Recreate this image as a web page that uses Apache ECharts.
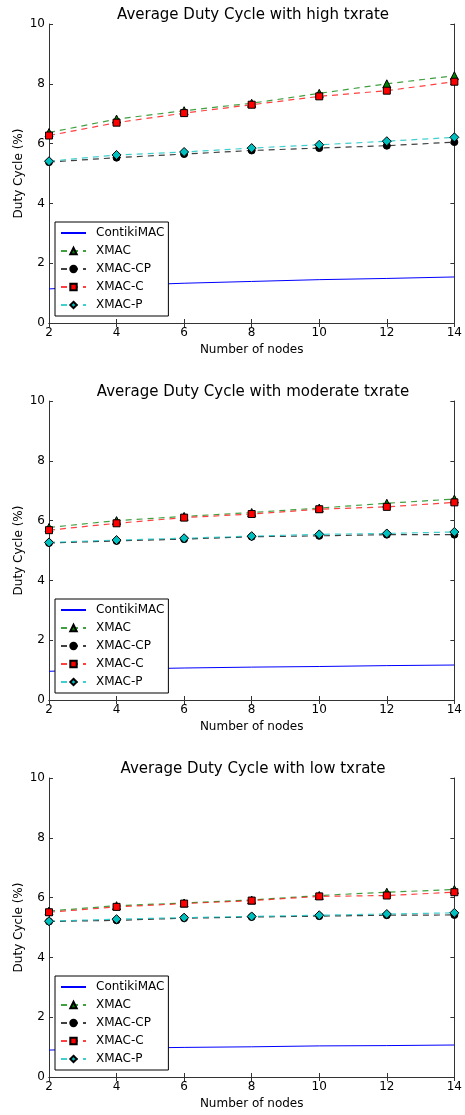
<!DOCTYPE html>
<html>
<head>
<meta charset="utf-8">
<script src="https://cdn.jsdelivr.net/npm/echarts@6/dist/echarts.min.js"></script>
<style>
html,body{margin:0;padding:0;background:#fff;}
#chart{width:465px;height:1115px;}
</style>
</head>
<body>
<div id="chart"></div>
<script>
// ---- data ----
const nodes = [2, 4, 6, 8, 10, 12, 14];
const yTicks = [0, 2, 4, 6, 8, 10];
const titles = ['Average Duty Cycle with high txrate', 'Average Duty Cycle with moderate txrate', 'Average Duty Cycle with low txrate'];
const seriesNames = ['ContikiMAC', 'XMAC', 'XMAC-CP', 'XMAC-C', 'XMAC-P'];

const highContiki = [1.14, 1.25, 1.33, 1.39, 1.45, 1.49, 1.54];
const highXmac    = [6.37, 6.82, 7.10, 7.35, 7.68, 8.00, 8.27];
const highXmacCP  = [5.38, 5.53, 5.65, 5.77, 5.85, 5.93, 6.05];
const highXmacC   = [6.27, 6.70, 7.02, 7.30, 7.58, 7.77, 8.07];
const highXmacP   = [5.41, 5.62, 5.72, 5.85, 5.96, 6.08, 6.21];

const modContiki = [0.96, 1.03, 1.07, 1.10, 1.12, 1.15, 1.17];
const modXmac    = [5.77, 6.00, 6.14, 6.27, 6.42, 6.58, 6.72];
const modXmacCP  = [5.25, 5.32, 5.38, 5.46, 5.49, 5.53, 5.53];
const modXmacC   = [5.68, 5.91, 6.10, 6.22, 6.38, 6.46, 6.61];
const modXmacP   = [5.27, 5.35, 5.41, 5.48, 5.54, 5.57, 5.62];

const lowContiki = [0.90, 0.96, 0.99, 1.01, 1.04, 1.05, 1.07];
const lowXmac    = [5.55, 5.73, 5.82, 5.92, 6.07, 6.18, 6.27];
const lowXmacCP  = [5.20, 5.24, 5.31, 5.35, 5.38, 5.41, 5.42];
const lowXmacC   = [5.51, 5.69, 5.80, 5.90, 6.04, 6.07, 6.18];
const lowXmacP   = [5.21, 5.28, 5.33, 5.37, 5.41, 5.45, 5.49];

const panels = [
  [highContiki, highXmac, highXmacCP, highXmacC, highXmacP],
  [modContiki, modXmac, modXmacCP, modXmacC, modXmacP],
  [lowContiki, lowXmac, lowXmacCP, lowXmacC, lowXmacP]
];

// ---- styles ----
const styles = [
  {color: '#0000ff', symbol: 'none', size: 0, dashed: false},
  {color: '#008000', symbol: 'triangle', size: 8, dashed: true},
  {color: '#000000', symbol: 'circle', size: 7, dashed: true},
  {color: '#ff0000', symbol: 'rect', size: 7, dashed: true},
  {color: '#00bfbf', symbol: 'diamond', size: 9, dashed: true}
];

const font = 'DejaVu Sans';
const gridTops = [24, 401, 778];
const gridH = 299;
const axisColor = '#333';

const grids = [], xAxes = [], yAxes = [], series = [], legends = [], titleComps = [];

gridTops.forEach((top, g) => {
  grids.push({left: 49, right: 10, top: top, height: gridH});
  titleComps.push({
    text: titles[g], left: 248, top: top - 21, textAlign: 'center',
    textStyle: {fontFamily: font, fontSize: 15, fontWeight: 'normal', color: '#000'}
  });
  const xmin = nodes[0], xmax = nodes[nodes.length - 1], xint = nodes[1] - nodes[0];
  const ymin = yTicks[0], ymax = yTicks[yTicks.length - 1], yint = yTicks[1] - yTicks[0];
  const lineCommon = {show: true, lineStyle: {color: axisColor, width: 1}};
  const tickCommon = {show: true, inside: true, length: 4, lineStyle: {color: axisColor}};
  xAxes.push({
    type: 'value', gridIndex: g, position: 'bottom', min: xmin, max: xmax, interval: xint,
    axisLine: lineCommon, axisTick: tickCommon, splitLine: {show: false},
    axisLabel: {fontFamily: font, fontSize: 12, color: '#000', margin: 4},
    name: 'Number of nodes', nameLocation: 'middle', nameGap: 21, nameMoveOverlap: false,
    nameTextStyle: {fontFamily: font, fontSize: 12, color: '#000'}
  });
  xAxes.push({
    type: 'value', gridIndex: g, position: 'top', min: xmin, max: xmax, interval: xint,
    axisLine: lineCommon, axisTick: tickCommon, splitLine: {show: false},
    axisLabel: {show: false}
  });
  yAxes.push({
    type: 'value', gridIndex: g, position: 'left', min: ymin, max: ymax, interval: yint,
    axisLine: lineCommon, axisTick: tickCommon, splitLine: {show: false},
    axisLabel: {fontFamily: font, fontSize: 12, color: '#000', margin: 4},
    name: 'Duty Cycle (%)', nameLocation: 'middle', nameGap: 24, nameMoveOverlap: false,
    nameTextStyle: {fontFamily: font, fontSize: 12, color: '#000'}
  });
  yAxes.push({
    type: 'value', gridIndex: g, position: 'right', min: ymin, max: ymax, interval: yint,
    axisLine: lineCommon, axisTick: tickCommon, splitLine: {show: false},
    axisLabel: {show: false}
  });
  panels[g].forEach((vals, s) => {
    const st = styles[s];
    series.push({
      name: seriesNames[s], type: 'line',
      xAxisIndex: g * 2, yAxisIndex: g * 2,
      data: nodes.map((x, i) => [x, vals[i]]),
      symbol: st.symbol, symbolSize: st.size, showSymbol: st.symbol !== 'none',
      clip: true, animation: false,
      lineStyle: {color: st.color, width: st.dashed ? 1.2 : 1, type: st.dashed ? [6, 5] : 'solid', opacity: st.dashed ? 0.75 : 1},
      itemStyle: {color: st.color, borderColor: '#000', borderWidth: 1},
      emphasis: {disabled: true},
      z: 2 + s
    });
  });
  legends.push({
    orient: 'vertical', left: 55, top: top + 198,
    data: seriesNames.map((n, s) => s === 0 ? {name: n, itemStyle: {opacity: 0, borderWidth: 0}} : {name: n}),
    selectedMode: false,
    backgroundColor: '#fff', borderColor: '#000', borderWidth: 1,
    padding: [4, 4, 4, 5], itemGap: 4, itemWidth: 25, itemHeight: 8,
    textStyle: {fontFamily: font, fontSize: 12, color: '#000', lineHeight: 14, padding: [0, 0, 0, 5]}
  });
});

const chart = echarts.init(document.getElementById('chart'), null, {renderer: 'canvas'});
chart.setOption({
  animation: false,
  backgroundColor: '#fff',
  title: titleComps,
  grid: grids,
  xAxis: xAxes,
  yAxis: yAxes,
  legend: legends,
  series: series
});
</script>
</body>
</html>
